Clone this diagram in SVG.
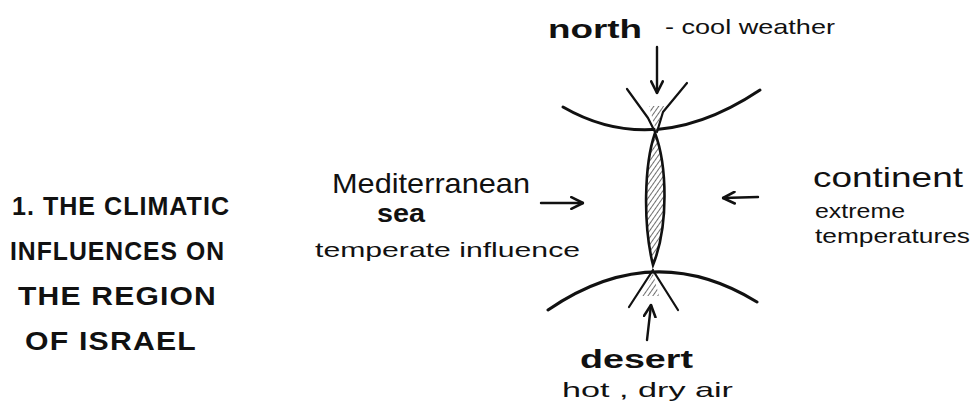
<svg xmlns="http://www.w3.org/2000/svg" width="975" height="403" viewBox="0 0 975 403">
<defs>
<style>
.t{font-family:"Liberation Sans","DejaVu Sans",sans-serif;fill:#111}
.title{font-size:25px;font-weight:bold;letter-spacing:1px}
.big{font-size:25px;font-weight:bold}
.mid{font-size:28px}
.small{font-size:21px}
.ln{fill:none;stroke:#111;stroke-width:3;stroke-linecap:round;stroke-linejoin:round}
.thin{fill:none;stroke:#111;stroke-width:2.2;stroke-linecap:round;stroke-linejoin:round}
.arrow{fill:none;stroke:#111;stroke-width:2.4;stroke-linecap:round;marker-end:url(#head)}
</style>
<marker id="head" viewBox="0 0 12 12" refX="11" refY="6" markerWidth="14" markerHeight="14" markerUnits="userSpaceOnUse" orient="auto">
<path d="M1,1 L11,6 L1,11" fill="none" stroke="#111" stroke-width="2.2" stroke-linecap="round" stroke-linejoin="round"/>
</marker>
<pattern id="hatch" width="4" height="4" patternUnits="userSpaceOnUse" patternTransform="rotate(35)">
<rect width="4" height="4" fill="#fff"/>
<line x1="0" y1="0" x2="0" y2="4" stroke="#222" stroke-width="1.3"/>
</pattern>
</defs>
<rect width="975" height="403" fill="#fff"/>

<g id="title">
<text class="t title" x="12" y="215" textLength="218" lengthAdjust="spacingAndGlyphs">1. THE CLIMATIC</text>
<text class="t title" x="10" y="260" textLength="215" lengthAdjust="spacingAndGlyphs">INFLUENCES ON</text>
<text class="t title" x="18" y="305" textLength="199" lengthAdjust="spacingAndGlyphs">THE  REGION</text>
<text class="t title" x="25" y="350" textLength="172" lengthAdjust="spacingAndGlyphs">OF  ISRAEL</text>
</g>

<g id="region">
<path class="ln" d="M563,107 Q655,160 760,90"/>
<path class="ln" d="M548,310 Q653,238 757,302"/>
<path d="M655,133 C644,165 643,225 653,265 C669,225 667,165 655,133 Z" fill="url(#hatch)" stroke="#111" stroke-width="2.6"/>
<path d="M649,106 L664,106 L656,131 Z" fill="url(#hatch)" stroke="none"/>
<path class="thin" d="M627,89 L648,118 L655,132"/>
<path class="thin" d="M687,83 L663,112 L657,132"/>
<path d="M653,273 L642,296 L659,296 Z" fill="url(#hatch)" stroke="none"/>
<path class="thin" d="M653,270 L629,307"/>
<path class="thin" d="M654,272 L678,310"/>
</g>

<g id="north">
<text class="t big" x="548" y="38" textLength="94" lengthAdjust="spacingAndGlyphs">north</text>
<text class="t small" x="665" y="34" textLength="170" lengthAdjust="spacingAndGlyphs">- cool weather</text>
</g>

<g id="sea">
<text class="t mid" x="332" y="193" textLength="198" lengthAdjust="spacingAndGlyphs">Mediterranean</text>
<text class="t big" x="377" y="222" textLength="48" lengthAdjust="spacingAndGlyphs">sea</text>
<text class="t small" x="315" y="257" textLength="265" lengthAdjust="spacingAndGlyphs">temperate  influence</text>
</g>

<g id="continent">
<text class="t mid" x="813" y="187" textLength="150" lengthAdjust="spacingAndGlyphs">continent</text>
<text class="t small" x="815" y="218" textLength="90" lengthAdjust="spacingAndGlyphs">extreme</text>
<text class="t small" x="815" y="243" textLength="155" lengthAdjust="spacingAndGlyphs">temperatures</text>
</g>

<g id="desert">
<text class="t big" x="580" y="368" font-size="30" textLength="113" lengthAdjust="spacingAndGlyphs">desert</text>
<text class="t small" x="562" y="397" textLength="171" lengthAdjust="spacingAndGlyphs">hot , dry  air</text>
</g>

<g id="connectors">
<line class="arrow" x1="657" y1="47" x2="657" y2="93"/>
<line class="arrow" x1="647" y1="340" x2="651" y2="305"/>
<line class="arrow" x1="541" y1="203" x2="583" y2="203"/>
<line class="arrow" x1="758" y1="197" x2="723" y2="198"/>
</g>
</svg>
